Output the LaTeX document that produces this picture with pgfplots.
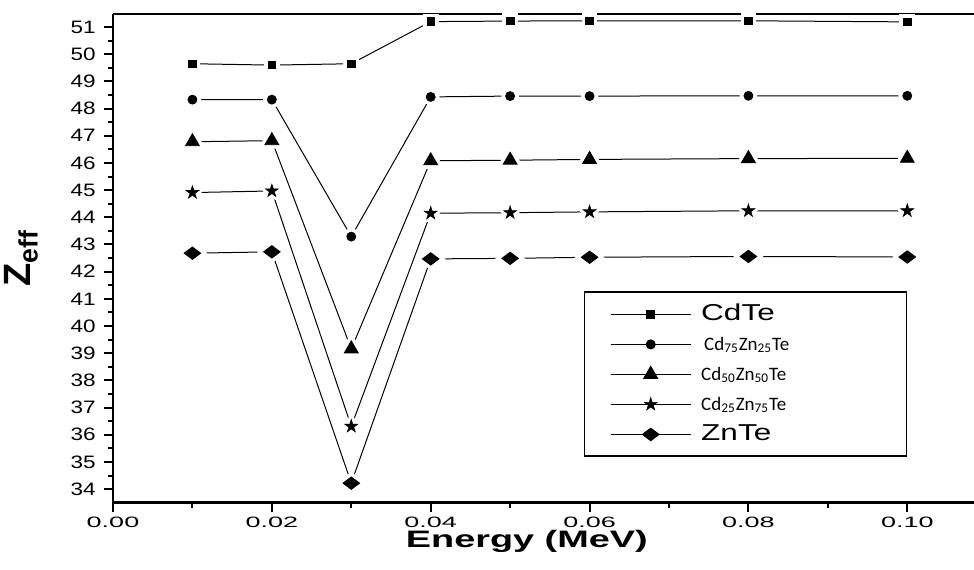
\documentclass[border=0pt]{standalone}
\usepackage{graphicx}
\usepackage{fontspec}
\setmainfont{Liberation Sans}
\newfontfamily\calib{Carlito}
\usepackage{pgfplots}
\pgfplotsset{compat=1.18}
\usepackage{pgfplotstable}
\usetikzlibrary{plotmarks}

\pgfdeclareplotmark{fstar}{%
  \pgfpathmoveto{\pgfqpointpolar{90}{\pgfplotmarksize}}%
  \pgfpathlineto{\pgfqpointpolar{126}{0.382\pgfplotmarksize}}%
  \pgfpathlineto{\pgfqpointpolar{162}{\pgfplotmarksize}}%
  \pgfpathlineto{\pgfqpointpolar{198}{0.382\pgfplotmarksize}}%
  \pgfpathlineto{\pgfqpointpolar{234}{\pgfplotmarksize}}%
  \pgfpathlineto{\pgfqpointpolar{270}{0.382\pgfplotmarksize}}%
  \pgfpathlineto{\pgfqpointpolar{306}{\pgfplotmarksize}}%
  \pgfpathlineto{\pgfqpointpolar{342}{0.382\pgfplotmarksize}}%
  \pgfpathlineto{\pgfqpointpolar{18}{\pgfplotmarksize}}%
  \pgfpathlineto{\pgfqpointpolar{54}{0.382\pgfplotmarksize}}%
  \pgfpathclose
  \pgfusepathqfillstroke}

\pgfplotstableread{
x y
0.01 49.65
0.02 49.60
0.03 49.65
0.04 51.20
0.05 51.22
0.06 51.23
0.08 51.23
0.10 51.19
}\cdte
\pgfplotstableread{
x y
0.01 48.33
0.02 48.33
0.03 43.29
0.04 48.43
0.05 48.46
0.06 48.46
0.08 48.47
0.10 48.47
}\cdza
\pgfplotstableread{
x y
0.01 46.78
0.02 46.82
0.03 39.16
0.04 46.08
0.05 46.10
0.06 46.13
0.08 46.16
0.10 46.17
}\cdzb
\pgfplotstableread{
x y
0.01 44.91
0.02 44.97
0.03 36.31
0.04 44.15
0.05 44.17
0.06 44.20
0.08 44.24
0.10 44.24
}\cdzc
\pgfplotstableread{
x y
0.01 42.68
0.02 42.73
0.03 34.22
0.04 42.47
0.05 42.49
0.06 42.53
0.08 42.56
0.10 42.54
}\znte

\begin{document}
\begin{tikzpicture}
\begin{axis}[
  scale only axis,
  width=430.5pt, height=244.35pt,
  xmin=0, xmax=0.1084, ymin=33.5, ymax=51.48,
  axis lines=left,
  axis line style={-, line width=1.3pt},
  clip=false,
  xtick={0,0.02,0.04,0.06,0.08,0.10},
  ytick={34,35,...,51},
  minor x tick num=1, minor y tick num=1,
  tick align=outside,
  major tick length=4.5pt, minor tick length=2.5pt,
  every tick/.style={black, line width=1pt},
  xticklabel={\fontsize{7.5}{9}\selectfont\scalebox{1.8}[1]{\pgfmathprintnumber[fixed,fixed zerofill,precision=2]{\tick}}},
  yticklabel={\fontsize{9}{11}\selectfont\scalebox{1.25}[1]{\pgfmathprintnumber{\tick}}},
  /pgf/number format/assume math mode=true,
  xticklabel style={anchor=north, inner sep=0pt, yshift=-2.5pt},
  yticklabel style={anchor=east, inner sep=0pt, xshift=-4pt},
  legend style={at={(rel axis cs:0.548,0.4311)}, anchor=north west,
    draw=none, fill=none, inner xsep=12.5pt, inner ysep=3.5pt,
    row sep=0pt, column sep=5pt,
    nodes={inner sep=0pt, minimum height=15pt, text height=8pt, text depth=2pt, anchor=west}},
  legend cell align=left,
  legend image code/.code={\draw[mark repeat=2,mark phase=2,#1] plot coordinates {(0pt,0pt) (20pt,0pt) (40pt,0pt)};},
]
% lines
\addplot[black, line width=0.5pt, no marks, forget plot] table {\cdte};
\addplot[black, line width=0.5pt, no marks, forget plot] table {\cdza};
\addplot[black, line width=0.5pt, no marks, forget plot] table {\cdzb};
\addplot[black, line width=0.5pt, no marks, forget plot] table {\cdzc};
\addplot[black, line width=0.5pt, no marks, forget plot] table {\znte};
% white halos
\addplot[only marks, forget plot, mark=square*, mark size=1.9pt, mark options={draw=white, fill=white, line width=4pt}] table {\cdte};
\addplot[only marks, forget plot, mark=*, mark size=2.25pt, mark options={draw=white, fill=white, line width=4pt}] table {\cdza};
\addplot[only marks, forget plot, mark=triangle*, mark size=4pt, mark options={draw=white, fill=white, line width=4pt}] table {\cdzb};
\addplot[only marks, forget plot, mark=fstar, mark size=3.4pt, mark options={draw=white, fill=white, line width=3.5pt, line join=round}] table {\cdzc};
\addplot[only marks, forget plot, mark=diamond*, mark size=4.15pt, mark options={rotate=90, draw=white, fill=white, line width=4pt}] table {\znte};
% black marks
\addplot[only marks, forget plot, mark=square*, mark size=1.9pt, mark options={draw=black, fill=black}] table {\cdte};
\addplot[only marks, forget plot, mark=*, mark size=2.25pt, mark options={draw=black, fill=black}] table {\cdza};
\addplot[only marks, forget plot, mark=triangle*, mark size=4pt, mark options={draw=black, fill=black}] table {\cdzb};
\addplot[only marks, forget plot, mark=fstar, mark size=3.4pt, mark options={draw=black, fill=black, line width=0.3pt}] table {\cdzc};
\addplot[only marks, forget plot, mark=diamond*, mark size=4.15pt, mark options={rotate=90, draw=black, fill=black}] table {\znte};
% legend
\addlegendimage{black, line width=0.5pt, mark=square*, mark size=1.9pt, mark options={fill=black}}
\addlegendentry{\makebox[100pt][l]{\fontsize{11.5}{13}\selectfont\scalebox{1.37}[1]{CdTe}}}
\addlegendimage{black, line width=0.5pt, mark=*, mark size=2.25pt, mark options={fill=black}}
\addlegendentry{\makebox[100pt][l]{\hspace{1.5pt}\calib\fontsize{9.5}{11}\selectfont Cd\textsubscript{75}Zn\textsubscript{25}Te}}
\addlegendimage{black, line width=0.5pt, mark=triangle*, mark size=4pt, mark options={fill=black}}
\addlegendentry{\makebox[100pt][l]{\calib\fontsize{9.5}{11}\selectfont Cd\textsubscript{50}Zn\textsubscript{50}Te}}
\addlegendimage{black, line width=0.5pt, mark=fstar, mark size=3.4pt, mark options={fill=black, line width=0.3pt}}
\addlegendentry{\makebox[100pt][l]{\calib\fontsize{9.5}{11}\selectfont Cd\textsubscript{25}Zn\textsubscript{75}Te}}
\addlegendimage{black, line width=0.5pt, mark=diamond*, mark size=4.15pt, mark options={rotate=90, fill=black}}
\addlegendentry{\makebox[100pt][l]{\fontsize{11.5}{13}\selectfont\scalebox{1.37}[1]{ZnTe}}}
% legend frame
\draw[line width=0.6pt] (rel axis cs:0.548,0.4311) rectangle (rel axis cs:0.922,0.0956);
% top frame line and labels
\draw[line width=1.3pt] (rel axis cs:0,1) -- (rel axis cs:1,1);
\coordinate (BL) at (rel axis cs:0,0);
\coordinate (TR) at (rel axis cs:1,1);
\node[anchor=base, inner sep=0pt, font=\bfseries\fontsize{11.9}{14}\selectfont] at ([yshift=-22.5pt]axis cs:0.0521,33.5) {\scalebox{1.59}[1]{Energy (MeV)}};
\node[anchor=center, rotate=90, inner sep=0pt, font=\bfseries\fontsize{19}{22}\selectfont] at ([xshift=-46pt]rel axis cs:0,0.5) {Z\textsubscript{eff}};
\end{axis}
\pgfresetboundingbox
\path ([shift={(-56.5pt,-33.15pt)}]BL) rectangle ([shift={(0pt,7pt)}]TR);
\end{tikzpicture}
\end{document}
